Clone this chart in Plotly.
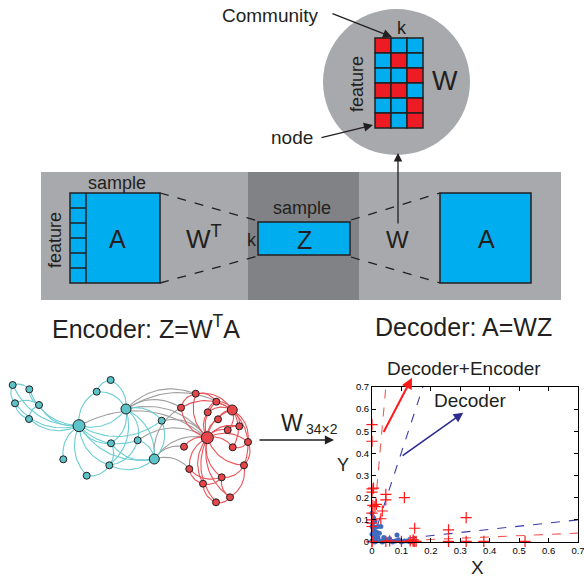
import numpy as np
import plotly.graph_objects as go

W_PX, H_PX = 584, 577
FONT = "Liberation Sans, Arial, sans-serif"
BLUE = "#00aeef"
RED = "#ed1c24"
INK = "#231f20"
LIGHT_GRAY = "#a7a9ac"
DARK_GRAY = "#808285"

# ---------------- community membership matrix W (feature x k) ----------------
w_matrix = [
    ["r", "b", "b"],
    ["b", "r", "b"],
    ["b", "b", "r"],
    ["r", "r", "b"],
    ["b", "b", "r"],
    ["r", "b", "r"],
]

# ---------------- karate-club style network (34 nodes) ----------------
node_x = [12.7, 29.3, 15.0, 39.0, 29.0, 110.7, 96.7, 79.0, 126.0, 161.7, 111.0, 137.7,
          63.3, 109.3, 86.7, 154.3,
          195.7, 181.0, 216.3, 207.7, 232.3, 218.0, 227.7, 239.3, 207.3, 248.0, 184.0,
          232.7, 189.3, 244.0, 221.7, 203.0, 230.0, 216.0]
node_y = [385.0, 389.3, 403.3, 405.0, 419.0, 380.0, 391.7, 425.7, 409.0, 420.7, 443.3, 440.3,
          459.3, 465.3, 475.7, 459.0,
          393.7, 407.7, 401.7, 412.3, 410.0, 419.3, 430.0, 426.3, 437.7, 442.0, 446.7,
          447.3, 469.0, 465.3, 477.3, 483.7, 497.3, 502.3]
node_group = [0] * 16 + [1] * 18
node_size = [7, 7, 7, 7, 7, 7, 7, 12, 10, 7, 7, 7, 7, 7, 7, 10,
             7, 7, 7, 7, 10, 7, 7, 7, 12, 7, 7, 7, 7, 7, 7, 7, 7, 7]
edges = [
    (1, 2), (1, 3), (2, 4), (3, 4), (3, 5), (4, 5), (1, 8), (2, 8), (3, 8), (4, 8), (5, 8),
    (6, 7), (6, 9), (7, 8), (7, 9), (8, 9), (8, 10), (8, 11), (8, 12), (8, 13), (8, 14),
    (8, 15), (8, 16), (9, 10), (9, 11), (9, 12), (9, 14), (9, 16), (11, 14), (12, 14),
    (12, 16), (14, 15), (14, 16), (10, 16), (11, 16),
    (8, 25), (9, 17), (9, 21), (9, 25), (10, 25), (16, 18), (16, 25), (16, 29), (12, 25),
    (16, 27), (9, 18),
    (25, 17), (25, 18), (25, 19), (25, 20), (25, 21), (25, 22), (25, 23), (25, 24),
    (25, 26), (25, 27), (25, 28), (25, 29), (25, 30), (25, 31), (25, 32), (25, 33), (25, 34),
    (21, 17), (21, 19), (21, 20), (21, 22), (21, 23), (21, 24), (21, 26), (21, 28),
    (21, 30), (21, 18), (17, 18), (17, 19), (19, 20), (26, 30), (30, 31), (31, 32),
    (32, 34), (33, 34), (29, 32), (30, 33), (26, 28), (31, 33), (23, 24), (29, 31),
]

# ---------------- 2-D embedding (W34x2) ----------------
enc_x = [0.0, 0.0, 0.0, 0.0, 0.003, 0.015, 0.0, 0.0, 0.0, 0.047, 0.047, 0.035, 0.03,
         0.11, 0.32, 0.145, 0.26, 0.0, 0.047, 0.06, 0.1, 0.13, 0.14, 0.145, 0.15, 0.26,
         0.32, 0.38, 0.52, 0.005, 0.01, 0.0, 0.14, 0.0]
enc_y = [0.53, 0.455, 0.24, 0.225, 0.165, 0.17, 0.13, 0.1, 0.085, 0.215, 0.19, 0.14,
         0.105, 0.2, 0.11, 0.062, 0.055, 0.003, 0.003, 0.005, 0.003, 0.005, 0.003, 0.003,
         0.003, 0.003, 0.003, 0.003, 0.003, 0.243, 0.16, 0.07, 0.01, 0.0]
dec_x = [0.0, 0.005, 0.01, 0.003, 0.0, 0.01, 0.02, 0.03, 0.005, 0.015, 0.0, 0.01,
         0.02, 0.005, 0.0, 0.015, 0.03, 0.04, 0.05, 0.06, 0.07, 0.08, 0.09, 0.085,
         0.1, 0.12, 0.13, 0.14, 0.04, 0.06, 0.025, 0.01, 0.035, 0.11]
dec_y = [0.13, 0.11, 0.095, 0.085, 0.07, 0.065, 0.07, 0.07, 0.05, 0.045, 0.035, 0.03,
         0.02, 0.015, 0.005, 0.005, 0.005, 0.005, 0.01, 0.005, 0.0, 0.005, 0.01, 0.032,
         0.0, 0.005, 0.0, 0.005, 0.02, 0.015, 0.04, 0.0, 0.0, 0.005]
# community directions found by each model
enc_dirs = [(0.047, 0.7), (0.7, 0.04)]
dec_dirs = [(0.173, 0.7), (0.7, 0.1)]
ticks = [0, 0.1, 0.2, 0.3, 0.4, 0.5, 0.6, 0.7]
tick_text = ["0", "0.1", "0.2", "0.3", "0.4", "0.5", "0.6", "0.7"]

fig = go.Figure()
shapes = []
ann = []


def rect(x0, y0, x1, y1, fill, line=INK, lw=1.5):
    shapes.append(dict(type="rect", xref="x", yref="y", x0=x0, y0=y0, x1=x1, y1=y1,
                       fillcolor=fill, line=dict(color=line, width=lw), layer="above"))


def seg(x0, y0, x1, y1, dash="solid", lw=1.3, color=INK):
    shapes.append(dict(type="line", xref="x", yref="y", x0=x0, y0=y0, x1=x1, y1=y1,
                       line=dict(color=color, width=lw, dash=dash), layer="above"))


def label(x, y, text, size, angle=0, color=INK, xanchor="center"):
    ann.append(dict(x=x, y=y, xref="x", yref="y", text=text, showarrow=False,
                    font=dict(family=FONT, size=size, color=color), textangle=angle,
                    xanchor=xanchor, yanchor="middle"))


def arrow(x0, y0, x1, y1, color=INK, width=1.3, size=1.4, xref="x", yref="y"):
    ann.append(dict(x=x1, y=y1, ax=x0, ay=y0, xref=xref, yref=yref, axref=xref,
                    ayref=yref, text="", showarrow=True, arrowhead=2, arrowsize=size,
                    arrowwidth=width, arrowcolor=color, standoff=0, startstandoff=0))


# ---------------- autoencoder panel ----------------
rect(41, 172, 561, 300, LIGHT_GRAY, lw=0)
rect(248, 172, 359, 300, DARK_GRAY, lw=0)

# encoder input A with feature rows
rect(70, 193, 160, 283, BLUE)
seg(86, 193, 86, 283, lw=1.5)
for r in range(1, 6):
    seg(70, 193 + 15 * r, 86, 193 + 15 * r, lw=1.5)
label(117, 239, "A", 25)
label(117, 183, "sample", 18)
label(55, 240, "feature", 18, angle=-90)

# bottleneck Z
seg(160, 193, 258, 221, dash="dash")
seg(160, 283, 258, 256, dash="dash")
rect(258, 222, 350, 255, BLUE)
label(304, 240, "Z", 25)
label(252, 240, "k", 18)
label(302, 208, "sample", 18)
label(204, 237, "W<sup>T</sup>", 26)

# decoder output A
seg(351, 220, 440, 193, dash="dash")
seg(351, 257, 440, 283, dash="dash")
rect(440, 193, 531, 283, BLUE)
label(486, 239, "A", 25)
label(397, 239, "W", 24)
arrow(398, 225, 398, 153, width=1.3, size=1.3)

label(146, 327, "Encoder: Z=W<sup>T</sup>A", 25)
label(463, 327, "Decoder: A=WZ", 25)

# ---------------- W matrix bubble ----------------
shapes.append(dict(type="circle", xref="x", yref="y", x0=323, y0=9, x1=470, y1=155,
                   fillcolor=LIGHT_GRAY, line=dict(width=0), layer="below"))
for i, row in enumerate(w_matrix):
    for j, c in enumerate(row):
        rect(375 + 16 * j, 38 + 15 * i, 375 + 16 * (j + 1), 38 + 15 * (i + 1),
             RED if c == "r" else BLUE, lw=1.5)
label(402, 28, "k", 18)
label(445, 81, "W", 27)
label(357, 84, "feature", 18, angle=-90)
label(270, 15, "Community", 19)
arrow(331, 13, 392, 37)
label(292, 137, "node", 19)
arrow(320, 138, 373, 125)

# ---------------- network ----------------
nx_arr = np.array(node_x)
ny_arr = np.array(node_y)
cent = {g: (nx_arr[np.array(node_group) == g].mean(), ny_arr[np.array(node_group) == g].mean())
        for g in (0, 1)}
t = np.linspace(0, 1, 24)
edge_xy = {0: ([], []), 1: ([], []), 2: ([], [])}
for a, b in edges:
    a -= 1
    b -= 1
    p = np.array([node_x[a], node_y[a]])
    q = np.array([node_x[b], node_y[b]])
    if p[0] > q[0]:
        p, q = q, p
    d = q - p
    L = np.hypot(*d)
    n = np.array([d[1], -d[0]]) / L
    ga, gb = node_group[a], node_group[b]
    key = ga if ga == gb else 2
    mid = (p + q) / 2
    if key == 2:
        sgn = 1.0
    else:
        c = np.array(cent[key])
        sgn = 1.0 if np.dot(mid - c, n) >= 0 else -1.0
    ctrl = mid + sgn * 0.32 * L * n
    pts = ((1 - t)[:, None] ** 2) * p + (2 * (1 - t) * t)[:, None] * ctrl + (t ** 2)[:, None] * q
    edge_xy[key][0].extend(list(pts[:, 0]) + [None])
    edge_xy[key][1].extend(list(pts[:, 1]) + [None])

edge_colors = {0: "#6ccdd2", 1: "#e8545a", 2: "#a0a0a0"}
for key in (2, 0, 1):
    fig.add_trace(go.Scatter(x=edge_xy[key][0], y=edge_xy[key][1], mode="lines",
                             line=dict(color=edge_colors[key], width=1.1),
                             hoverinfo="skip", showlegend=False, xaxis="x", yaxis="y"))
fig.add_trace(go.Scatter(
    x=node_x, y=node_y, mode="markers", hoverinfo="skip", showlegend=False,
    marker=dict(size=node_size, color=["#5cc3c8" if g == 0 else "#e64549" for g in node_group],
                line=dict(color=INK, width=1), opacity=1),
    xaxis="x", yaxis="y"))

arrow(258, 440, 334, 440, width=1.4, size=1.3)
label(292, 423, "W", 23)
label(304, 429, "34×2", 14, xanchor="left")

# ---------------- embedding scatter ----------------
for dirs, color, dash in ((dec_dirs, "#3c3ca8", "dash"), (enc_dirs, "#f05a5a", "dash")):
    for dx, dy in dirs:
        fig.add_trace(go.Scatter(x=[0, dx], y=[0, dy], mode="lines",
                                 line=dict(color=color, width=1.1, dash=dash),
                                 hoverinfo="skip", showlegend=False, xaxis="x2", yaxis="y2"))
fig.add_trace(go.Scatter(x=dec_x, y=dec_y, mode="markers", cliponaxis=False,
                         marker=dict(size=5, color="#3f6cc0"), hoverinfo="skip",
                         showlegend=False, xaxis="x2", yaxis="y2"))
fig.add_trace(go.Scatter(x=enc_x, y=enc_y, mode="markers", cliponaxis=False,
                         marker=dict(size=8, symbol="cross-thin", color="#ff1a1a",
                                     line=dict(color="#ff1a1a", width=1.2)),
                         hoverinfo="skip", showlegend=False, xaxis="x2", yaxis="y2"))

arrow(0.037, 0.49, 0.136, 0.742, color="#ff1a1a", width=2, size=1.1, xref="x2", yref="y2")
arrow(0.099, 0.385, 0.31, 0.584, color="#2b2b90", width=1.6, size=1.2, xref="x2", yref="y2")
label(464, 368, "Decoder+Encoder", 19)
label(470, 400, "Decoder", 19)
label(343, 465, "Y", 18)
label(477, 567, "X", 19)

axis_common = dict(range=[0, 0.7], tickvals=ticks, ticktext=tick_text, ticks="inside",
                   ticklen=4, tickwidth=1, tickcolor="black", showline=True,
                   linecolor="black", linewidth=1, mirror="ticks", showgrid=False,
                   zeroline=False, fixedrange=True, ticklabeloverflow="allow",
                   automargin=False,
                   tickfont=dict(family=FONT, size=9.5, color="black"))

fig.update_layout(
    width=W_PX, height=H_PX, autosize=False,
    margin=dict(l=0, r=0, t=0, b=0, pad=0, autoexpand=False),
    paper_bgcolor="white", plot_bgcolor="rgba(0,0,0,0)",
    xaxis=dict(range=[0, W_PX], domain=[0, 1], visible=False, fixedrange=True,
               automargin=False),
    yaxis=dict(range=[H_PX, 0], domain=[0, 1], visible=False, fixedrange=True,
               automargin=False),
    xaxis2=dict(domain=[372 / W_PX, 578 / W_PX], anchor="y2", **axis_common),
    yaxis2=dict(domain=[1 - 542 / H_PX, 1 - 387 / H_PX], anchor="x2", **axis_common),
    shapes=shapes, annotations=ann, showlegend=False,
)

fig.write_html("out.html")
